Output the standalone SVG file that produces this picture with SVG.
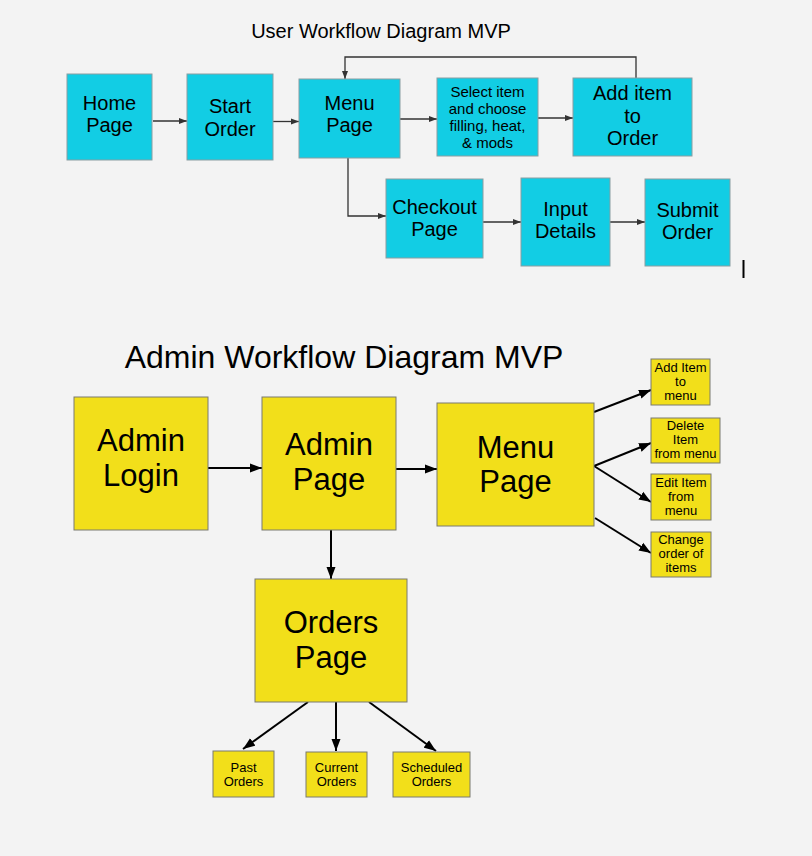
<svg xmlns="http://www.w3.org/2000/svg" width="812" height="856" viewBox="0 0 812 856">
<defs>
<style>
text{font-family:"Liberation Sans",Arial,sans-serif;fill:#000;text-anchor:middle}
.cy{fill:#12cde4;stroke:#8a9ea2;stroke-width:1}
.ye{fill:#f2df1a;stroke:#7a7a70;stroke-width:1}
.t20{font-size:20px}
.t15{font-size:15px}
.t31{font-size:31px}
.t13{font-size:13px}
.thin{fill:none;stroke:#333;stroke-width:1.3;marker-end:url(#ah1)}
.thick{fill:none;stroke:#000;stroke-width:2;marker-end:url(#ah2)}
</style>
<marker id="ah1" markerUnits="userSpaceOnUse" markerWidth="9" markerHeight="8" refX="8" refY="4" orient="auto">
<path d="M0,1 L8,4 L0,7 Z" fill="#333"/>
</marker>
<marker id="ah2" markerUnits="userSpaceOnUse" markerWidth="13" markerHeight="10" refX="12" refY="5" orient="auto">
<path d="M0,0.5 L12,5 L0,9.5 Z" fill="#000"/>
</marker>
</defs>
<rect width="812" height="856" fill="#f3f3f3"/>

<text x="381" y="38" style="font-size:20px">User Workflow Diagram MVP</text>
<text x="344" y="368" style="font-size:32px">Admin Workflow Diagram MVP</text>

<g id="connectors">
<path class="thin" d="M153,121 H187"/>
<path class="thin" d="M273,121.5 H299"/>
<path class="thin" d="M636,78 V57 H345 V79"/>
<path class="thin" d="M400,119 H437"/>
<path class="thin" d="M538,118 H573"/>
<path class="thin" d="M348,158 V216 H386"/>
<path class="thin" d="M483,222 H521"/>
<path class="thin" d="M610,222 H645"/>
<path class="thick" d="M208,468 H262"/>
<path class="thick" d="M396,469 H437"/>
<path class="thick" d="M331,530 V579"/>
<path class="thick" d="M594,412 L651,390"/>
<path class="thick" d="M594,466 L651,443"/>
<path class="thick" d="M594,466 L651,502"/>
<path class="thick" d="M595,518 L651,553"/>
<path class="thick" d="M308,702 L243,749"/>
<path class="thick" d="M336,702 V751"/>
<path class="thick" d="M369,702 L436,751"/>
</g>

<g id="home-page"><rect class="cy" x="67" y="74" width="85" height="86"/><text class="t20" x="109.5" y="109.5">Home</text><text class="t20" x="109.5" y="132">Page</text></g>
<g id="start-order"><rect class="cy" x="187" y="74" width="86" height="86"/><text class="t20" x="230" y="113">Start</text><text class="t20" x="230" y="136">Order</text></g>
<g id="menu-page-user"><rect class="cy" x="299" y="79" width="101" height="79"/><text class="t20" x="349.5" y="110">Menu</text><text class="t20" x="349.5" y="132">Page</text></g>
<g id="select-item"><rect class="cy" x="437" y="78" width="101" height="78"/><text class="t15" x="487.5" y="96.5">Select item</text><text class="t15" x="487.5" y="113.5">and choose</text><text class="t15" x="487.5" y="130.5">filling, heat,</text><text class="t15" x="487.5" y="147.5">&amp; mods</text></g>
<g id="add-item"><rect class="cy" x="573" y="78" width="119" height="78"/><text class="t20" x="632.5" y="100">Add item</text><text class="t20" x="632.5" y="122.5">to</text><text class="t20" x="632.5" y="145">Order</text></g>
<g id="checkout-page"><rect class="cy" x="386" y="179" width="97" height="79"/><text class="t20" x="434.5" y="214">Checkout</text><text class="t20" x="434.5" y="236">Page</text></g>
<g id="input-details"><rect class="cy" x="521" y="178" width="89" height="88"/><text class="t20" x="565.5" y="215.5">Input</text><text class="t20" x="565.5" y="237.5">Details</text></g>
<g id="submit-order"><rect class="cy" x="645" y="179" width="85" height="87"/><text class="t20" x="687.5" y="217">Submit</text><text class="t20" x="687.5" y="239">Order</text></g>

<line x1="743.5" y1="260" x2="743.5" y2="278" stroke="#000" stroke-width="2"/>

<g id="admin-login"><rect class="ye" x="74" y="397" width="134" height="133"/><text class="t31" x="141" y="451">Admin</text><text class="t31" x="141" y="486">Login</text></g>
<g id="admin-page"><rect class="ye" x="262" y="397" width="134" height="133"/><text class="t31" x="329" y="455">Admin</text><text class="t31" x="329" y="490">Page</text></g>
<g id="menu-page-admin"><rect class="ye" x="437" y="403" width="157" height="123"/><text class="t31" x="515.5" y="458">Menu</text><text class="t31" x="515.5" y="492">Page</text></g>
<g id="orders-page"><rect class="ye" x="255" y="579" width="152" height="123"/><text class="t31" x="331" y="633">Orders</text><text class="t31" x="331" y="668">Page</text></g>

<g id="add-item-menu"><rect class="ye" x="651" y="359" width="59" height="46"/><text class="t13" x="680.5" y="372">Add Item</text><text class="t13" x="680.5" y="386">to</text><text class="t13" x="680.5" y="400">menu</text></g>
<g id="delete-item"><rect class="ye" x="651" y="418" width="69" height="45"/><text class="t13" x="685.5" y="430">Delete</text><text class="t13" x="685.5" y="444">Item</text><text class="t13" x="685.5" y="458">from menu</text></g>
<g id="edit-item"><rect class="ye" x="651" y="474" width="60" height="46"/><text class="t13" x="681" y="487">Edit Item</text><text class="t13" x="681" y="501">from</text><text class="t13" x="681" y="515">menu</text></g>
<g id="change-order"><rect class="ye" x="651" y="532" width="60" height="45"/><text class="t13" x="681" y="544">Change</text><text class="t13" x="681" y="558">order of</text><text class="t13" x="681" y="572">items</text></g>

<g id="past-orders"><rect class="ye" x="213" y="751" width="61" height="46"/><text class="t13" x="243.5" y="772">Past</text><text class="t13" x="243.5" y="786">Orders</text></g>
<g id="current-orders"><rect class="ye" x="306" y="752" width="61" height="45"/><text class="t13" x="336.5" y="772">Current</text><text class="t13" x="336.5" y="786">Orders</text></g>
<g id="scheduled-orders"><rect class="ye" x="393" y="752" width="77" height="45"/><text class="t13" x="431.5" y="772">Scheduled</text><text class="t13" x="431.5" y="786">Orders</text></g>
</svg>
